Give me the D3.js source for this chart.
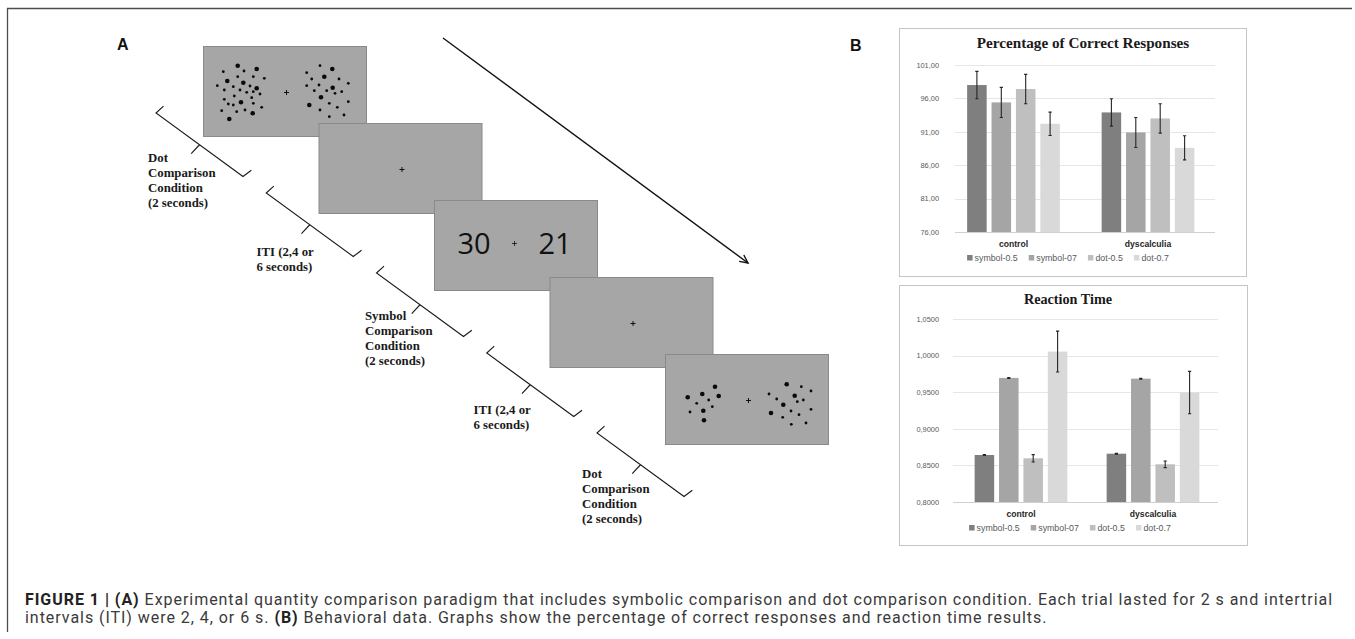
<!DOCTYPE html>
<html>
<head>
<meta charset="utf-8">
<script src="https://cdn.jsdelivr.net/npm/d3@7"></script>
<style>
body{margin:0;background:#fff;}
svg{display:block;}
</style>
</head>
<body>
<div id="fig"></div>
<script>
var w=1355
var h=639

//Chart data
var groups=["control","dyscalculia"];
var series=["symbol-0.5","symbol-07","dot-0.5","dot-0.7"];
var seriesColors=["#7f7f7f","#a5a5a5","#bfbfbf","#d9d9d9"];

//Percentage of correct responses (mean, error) per group, per series
var correctMean=[[98.0,95.4,97.4,92.2],[93.9,90.9,93.0,88.6]];
var correctErr=[[2.05,2.25,2.2,1.75],[2.05,2.25,2.2,1.8]];
var correctTicks=[76,81,86,91,96,101];

//Reaction time (mean, error)
var rtMean=[[0.8642,0.9695,0.8597,1.0055],[0.8660,0.9685,0.8515,0.9495]];
var rtErr=[[0.0006,0.0006,0.005,0.028],[0.0006,0.0006,0.0045,0.029]];
var rtTicks=[0.80,0.85,0.90,0.95,1.00,1.05];

//Panel A: trial sequence
var stepLabels=[["Dot","Comparison","Condition","(2 seconds)"],
                ["ITI (2,4 or","6 seconds)"],
                ["Symbol","Comparison","Condition","(2 seconds)"],
                ["ITI (2,4 or","6 seconds)"],
                ["Dot","Comparison","Condition","(2 seconds)"]];
var stepKinds=["dots","blank","symbol","blank","dots"];
var symbolPair=["30","21"];

//Dot stimuli, [x, y, big] in screen units (screen is 163 x 90)
var dotsFirst=[[34.7,19.7,1],[20.3,25.7,0],[41,25,0],[53.7,23,1],[34.7,30.7,0],[50.3,30.7,0],[61.3,32.3,0],
  [24.3,35,1],[40.3,36.7,1],[14.3,39.7,0],[30.3,40.7,0],[47,40,0],[53.7,42.3,1],[21.3,44,0],[37,44,0],
  [43.7,46.3,0],[50.3,45.7,0],[57,48,0],[31.3,50,0],[21.3,53.3,0],[25.3,58,0],[30.3,59,0],[38,56.3,1],
  [48.7,51.7,0],[50.3,57.3,0],[58.7,61.3,0],[18.7,64.7,0],[33.7,65.7,0],[42,64,0],[49.7,67.3,1],[26.3,73,1],
  [117,19.7,0],[129.3,23,1],[103.7,26.7,0],[108.7,33,0],[121.3,30.7,1],[136,33,0],[145.3,37.3,0],
  [116,39,0],[103.7,39.7,0],[129.7,41.7,1],[111.3,44.7,0],[123.7,44.7,0],[132,47.3,0],[138.7,45.7,0],
  [118,51.3,1],[145.3,55.7,0],[126.3,57.3,0],[134.3,61.3,0],[106.3,59,1],[117,64,0],[126.3,70.7,0],[141,69,0]];
var dotsLast=[[50,32.7,1],[22.7,43.3,1],[37.3,40,1],[53.7,42,1],[31.7,49.3,0],[43.7,46,0],[47.3,52.7,0],
  [38.3,56.7,1],[25,58,0],[39,66.3,1],
  [121.7,30.3,1],[136.3,32.7,0],[146,37,0],[104,40,0],[111.7,45,0],[129.7,41.7,1],[138.3,46,0],
  [132.3,47.7,0],[118.3,50.7,1],[126,57,0],[134,60.7,0],[146,55.3,0],[106,59,1],[117.7,63.3,0],
  [126.3,70.3,0],[141,69,0]];

var svg=d3.select("#fig")
          .append("svg")
          .attr("width",w)
          .attr("height",h);

//Figure frame (top and left)
svg.append("path")
   .attr("d","M7.5,632V8.5H1352")
   .attr("fill","none")
   .attr("stroke","#4d4d4d")
   .attr("stroke-width",1.3);

//Panel letters
svg.append("text").attr("x",117).attr("y",50).text("A")
   .attr("font-family","Liberation Sans, Arial").attr("font-weight","bold").attr("font-size",16).attr("fill","#111");
svg.append("text").attr("x",850).attr("y",51).text("B")
   .attr("font-family","Liberation Sans, Arial").attr("font-weight","bold").attr("font-size",16).attr("fill","#111");

// ---------- Panel A ----------
var screenW=163, screenH=90;
var screenX=d3.scaleLinear().domain([0,4]).range([203,665]);
var screenY=d3.scaleLinear().domain([0,4]).range([46,354]);

//Timeline arrow
var arrow=svg.append("g").attr("class","arrow");
var ax1=443, ay1=38, ax2=748, ay2=263;
var ang=Math.atan2(ay2-ay1,ax2-ax1);
arrow.append("line")
     .attr("x1",ax1).attr("y1",ay1).attr("x2",ax2).attr("y2",ay2)
     .attr("stroke","#111").attr("stroke-width",1.4);
arrow.append("path")
     .attr("d",function() {
        var l=9, a=0.45;
        return "M"+(ax2-l*Math.cos(ang-a))+","+(ay2-l*Math.sin(ang-a))+
               "L"+ax2+","+ay2+
               "L"+(ax2-l*Math.cos(ang+a))+","+(ay2-l*Math.sin(ang+a));
     })
     .attr("fill","none").attr("stroke","#111").attr("stroke-width",1.4);

//Screens
var screens=svg.append("g").attr("class","screens")
   .selectAll("g")
   .data(stepKinds)
   .enter()
   .append("g")
   .attr("transform",function(d,i) {return "translate("+screenX(i)+","+screenY(i)+")";});

screens.append("rect")
   .attr("x",0.5).attr("y",0.5)
   .attr("width",screenW).attr("height",screenH)
   .attr("fill","#a6a6a6")
   .attr("stroke","#8a8a8a")
   .attr("stroke-width",1);

//Fixation cross
screens.append("path")
   .attr("d",function(d) {
       var cx=d=="symbol"?80.5:83.5, cy=d=="symbol"?43.5:46.5, s=2.5;
       return "M"+(cx-s)+","+cy+"H"+(cx+s)+"M"+cx+","+(cy-s)+"V"+(cy+s);
   })
   .attr("stroke","#111")
   .attr("stroke-width",d=>d=="symbol"?0.8:1);

screens.each(function(d,i) {
    var g=d3.select(this);
    if (d=="dots") {
        var pts=i==0?dotsFirst:dotsLast;
        g.selectAll("circle")
         .data(pts)
         .enter()
         .append("circle")
         .attr("cx",p=>p[0])
         .attr("cy",p=>p[1])
         .attr("r",p=>p[2]?2.3:1.4)
         .attr("fill","#0a0a0a");
    } else if (d=="symbol") {
        g.selectAll("text.num")
         .data(symbolPair)
         .enter()
         .append("text")
         .attr("class","num")
         .attr("x",(p,j)=>j==0?40:121)
         .attr("y",54)
         .attr("text-anchor","middle")
         .attr("font-family","Open Sans, Liberation Sans, sans-serif")
         .attr("font-size",29)
         .attr("fill","#111")
         .text(p=>p);
    }
});

//Brackets and step labels
var brX=d3.scaleLinear().domain([0,4]).range([156,597]);
var brY=d3.scaleLinear().domain([0,4]).range([113,433]);
var brDx=87, brDy=63.5;
var brLen=Math.sqrt(brDx*brDx+brDy*brDy);
var ux=brDx/brLen, uy=brDy/brLen;
var px=uy, py=-ux;   //perpendicular, pointing up-right

var brackets=svg.append("g").attr("class","brackets")
   .selectAll("g")
   .data(stepLabels)
   .enter()
   .append("g");

brackets.append("path")
   .attr("d",function(d,i) {
       var x0=brX(i), y0=brY(i), x1=x0+brDx, y1=y0+brDy;
       var hk=10, mx=(x0+x1)/2, my=(y0+y1)/2;
       return "M"+(x0+px*hk+ux*2)+","+(y0+py*hk+uy*2)+
              "L"+x0+","+y0+
              "L"+x1+","+y1+
              "L"+(x1+px*hk+ux*3)+","+(y1+py*hk+uy*3)+
              "M"+mx+","+my+
              "L"+(mx-px*12-ux*1.5)+","+(my-py*12-uy*1.5);
   })
   .attr("fill","none")
   .attr("stroke","#1a1a1a")
   .attr("stroke-width",1.1);

var labX=d3.scaleLinear().domain([0,4]).range([148,582]);
var labY=d3.scaleLinear().domain([0,4]).range([180,496]);
brackets.append("text")
   .attr("font-family","Liberation Serif, Times New Roman, serif")
   .attr("font-weight","bold")
   .attr("font-size",12.8)
   .attr("fill","#1a1a1a")
   .each(function(d,i) {
       var t=d3.select(this);
       var first=labY(i)-(d.length-1)*15/2+4.5;
       d.forEach(function(line,k) {
           t.append("tspan").attr("x",labX(i)).attr("y",first+k*15).text(line);
       });
   });

// ---------- Panel B ----------
var formatComma=function(digits) {
    return function(v) {return d3.format("."+digits+"f")(v).replace(".",",");};
};

function drawChart(opt) {
    var g=svg.append("g").attr("class","chart");

    g.append("rect")
     .attr("x",opt.box[0]+0.5).attr("y",opt.box[1]+0.5)
     .attr("width",opt.box[2]-opt.box[0]).attr("height",opt.box[3]-opt.box[1])
     .attr("fill","#fff").attr("stroke","#c4c4c4").attr("stroke-width",1);

    g.append("text")
     .attr("x",opt.titleX).attr("y",opt.titleY)
     .attr("text-anchor","middle")
     .attr("font-family","Liberation Serif, Times New Roman, serif")
     .attr("font-weight","bold")
     .attr("font-size",opt.titleSize)
     .attr("fill","#1a1a1a")
     .text(opt.title);

    var yScale=d3.scaleLinear().domain(opt.domain).range(opt.yRange);
    var xScale=d3.scaleBand().domain(groups).range(opt.xRange);
    var inner=d3.scaleBand().domain(series).range([-48.8,48.8]).paddingInner(0.2).paddingOuter(0.1);

    //Gridlines
    g.append("g")
     .selectAll("line")
     .data(opt.ticks)
     .enter()
     .append("line")
     .attr("x1",opt.gridX[0]).attr("x2",opt.gridX[1])
     .attr("y1",d=>Math.round(yScale(d))+0.5).attr("y2",d=>Math.round(yScale(d))+0.5)
     .attr("stroke",(d,i)=>i==0?"#d0d0d0":"#e6e6e6")
     .attr("stroke-width",1);

    //Y axis labels
    var yAxis=d3.axisLeft(yScale).tickValues(opt.ticks).tickFormat(formatComma(opt.digits)).tickSize(0).tickPadding(0);
    var ya=g.append("g")
     .attr("transform","translate("+opt.labelX+",0)")
     .call(yAxis);
    ya.select(".domain").remove();
    ya.selectAll("text")
      .attr("font-family","Liberation Sans, Arial, sans-serif")
      .attr("font-size",7.4)
      .attr("fill","#595959");

    //Bars
    var bars=g.append("g")
      .selectAll("g")
      .data(groups)
      .enter()
      .append("g")
      .attr("transform",d=>"translate("+(xScale(d)+xScale.bandwidth()/2)+",0)");

    bars.each(function(grp,gi) {
        var gg=d3.select(this);
        var vals=series.map(function(s,si) {return {s:s,si:si,v:opt.mean[gi][si],e:opt.err[gi][si]};});
        gg.selectAll("rect")
          .data(vals)
          .enter()
          .append("rect")
          .attr("x",d=>inner(d.s))
          .attr("width",inner.bandwidth())
          .attr("y",d=>yScale(d.v))
          .attr("height",d=>yScale(opt.domain[0])-yScale(d.v))
          .attr("fill",d=>seriesColors[d.si]);
        //Error bars
        var eb=gg.selectAll("g.err")
          .data(vals)
          .enter()
          .append("g")
          .attr("class","err")
          .attr("transform",d=>"translate("+(inner(d.s)+inner.bandwidth()/2)+",0)");
        eb.append("path")
          .attr("d",function(d) {
              var y1=yScale(d.v+d.e), y2=yScale(d.v-d.e);
              return "M0,"+y1+"V"+y2+"M-1.6,"+y1+"H1.6M-1.6,"+y2+"H1.6";
          })
          .attr("stroke","#262626")
          .attr("stroke-width",1.1)
          .attr("fill","none");
    });

    //Category labels
    g.append("g")
     .selectAll("text")
     .data(groups)
     .enter()
     .append("text")
     .attr("x",d=>xScale(d)+xScale.bandwidth()/2)
     .attr("y",opt.yRange[0]+15)
     .attr("text-anchor","middle")
     .attr("font-family","Liberation Sans, Arial, sans-serif")
     .attr("font-weight","bold")
     .attr("font-size",8.6)
     .attr("fill","#262626")
     .text(d=>d);

    //Legend
    var legend=g.append("g").attr("class","legend");
    var items=legend.selectAll("g")
      .data(series)
      .enter()
      .append("g");
    items.append("rect")
      .attr("width",5.5).attr("height",5.5)
      .attr("y",-6)
      .attr("fill",(d,i)=>seriesColors[i]);
    items.append("text")
      .attr("x",7.5)
      .attr("y",0)
      .attr("font-family","Liberation Sans, Arial, sans-serif")
      .attr("font-size",8.8)
      .attr("fill","#595959")
      .text(d=>d);
    var offs=[], pos=0;
    items.each(function() {
        offs.push(pos);
        pos+=this.getBBox().width+11;
    });
    var total=pos-11;
    var start=opt.legendCenter-total/2;
    items.attr("transform",(d,i)=>"translate("+(start+offs[i])+","+(opt.yRange[0]+29)+")");
}

drawChart({
    box:[899,28,1246,276],
    title:"Percentage of Correct Responses",
    titleX:1083, titleY:47.5, titleSize:15.2,
    domain:[76,101], yRange:[232,65], ticks:correctTicks, digits:2,
    xRange:[946.25,1215.25], gridX:[955,1215], labelX:939,
    mean:correctMean, err:correctErr, legendCenter:1068
});

drawChart({
    box:[899,285,1247,545],
    title:"Reaction Time",
    titleX:1068, titleY:304, titleSize:14.2,
    domain:[0.80,1.05], yRange:[502,319], ticks:rtTicks, digits:4,
    xRange:[955,1219], gridX:[953,1218], labelX:939,
    mean:rtMean, err:rtErr, legendCenter:1070
});

// ---------- Caption ----------
var caption=svg.append("g")
   .attr("class","caption")
   .attr("font-family","Roboto, Liberation Sans, Arial, sans-serif")
   .attr("font-size",16)
   .attr("fill","#3a3a3a");

var line1=caption.append("text").attr("x",25).attr("y",605);
line1.append("tspan").attr("font-weight","bold").attr("fill","#222").text("FIGURE 1 | (A)");
line1.append("tspan").text(" Experimental quantity comparison paradigm that includes symbolic comparison and dot comparison condition. Each trial lasted for 2 s and intertrial");

var line2=caption.append("text").attr("x",25).attr("y",623);
line2.append("tspan").text("intervals (ITI) were 2, 4, or 6 s. ");
line2.append("tspan").attr("font-weight","bold").attr("fill","#222").text("(B)");
line2.append("tspan").text(" Behavioral data. Graphs show the percentage of correct responses and reaction time results.");

//Spread line 1 to the caption width and use the same spacing on line 2
var natural=line1.node().getComputedTextLength();
var nChars=line1.text().length;
var spacing=(1308-natural)/nChars;
caption.selectAll("text").style("letter-spacing",spacing+"px");
</script>
</body>
</html>
